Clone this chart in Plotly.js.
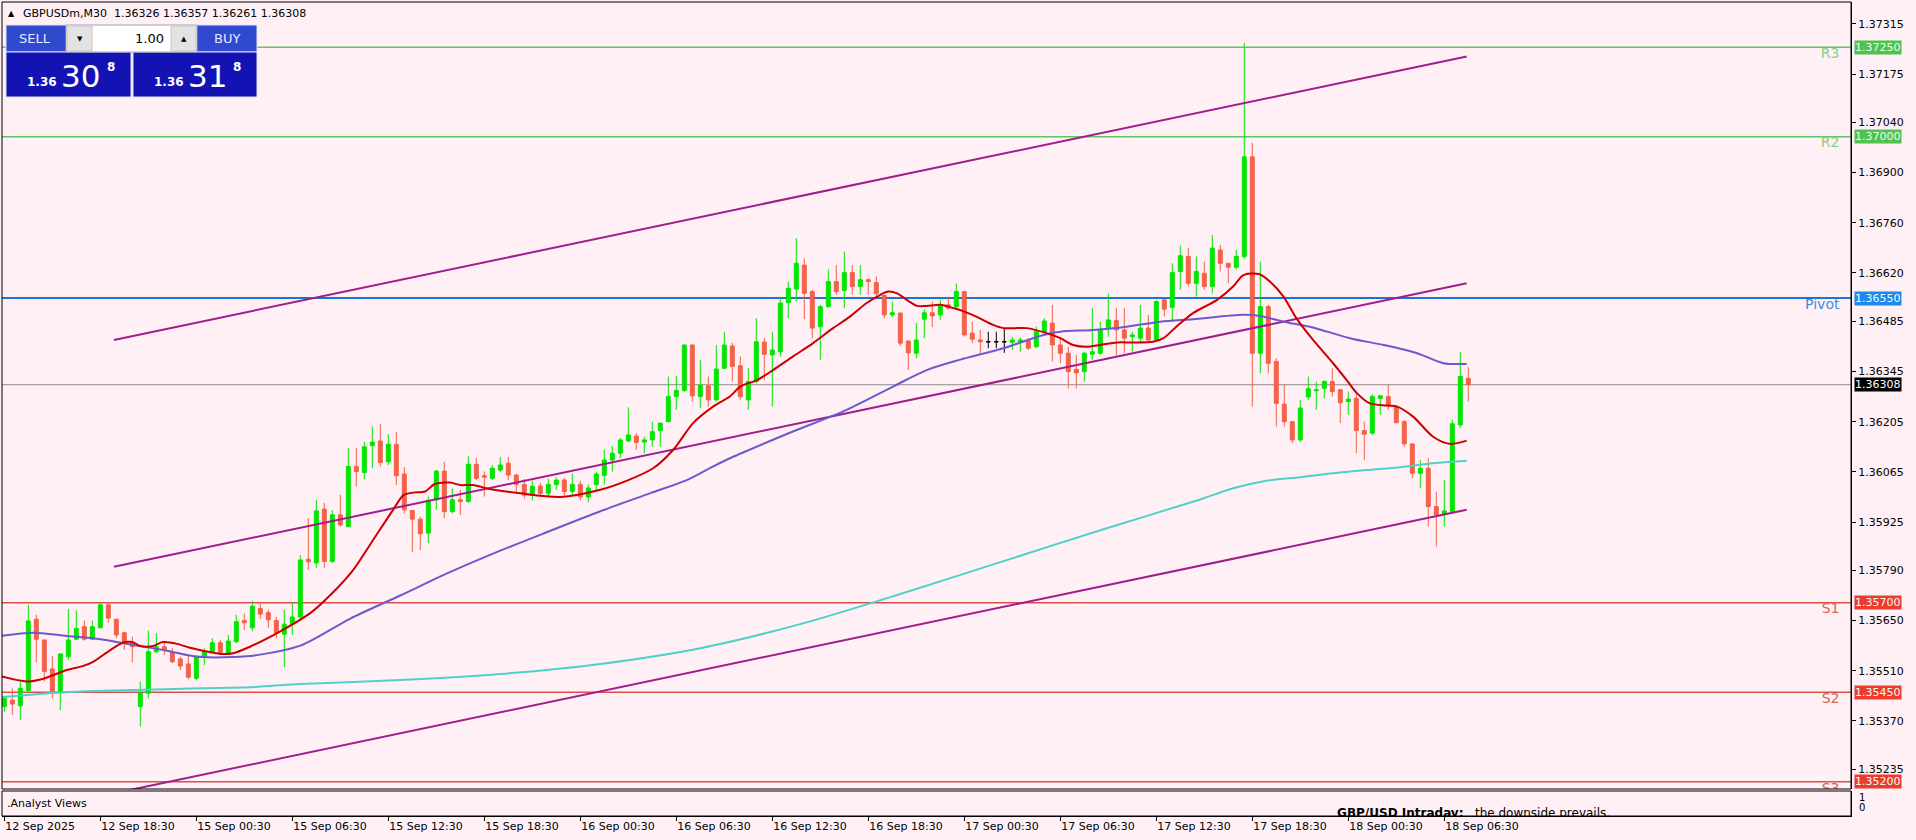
<!DOCTYPE html>
<html><head><meta charset="utf-8">
<script src="https://cdn.plot.ly/plotly-3.0.1.min.js"></script>
<style>html,body{margin:0;padding:0;background:#fff0f5;}#chart{width:1916px;height:840px;}</style>
</head><body><div id="chart"></div>
<script>
// ---------------- DATA ----------------
const symbolText = 'GBPUSDm,M30  1.36326 1.36357 1.36261 1.36308';
const tickBars = [0,12,24,36,48,60,72,84,96,108,120,132,144,156,168,180];
const tickLabels = ['12 Sep 2025','12 Sep 18:30','15 Sep 00:30','15 Sep 06:30','15 Sep 12:30','15 Sep 18:30','16 Sep 00:30','16 Sep 06:30','16 Sep 12:30','16 Sep 18:30','17 Sep 00:30','17 Sep 06:30','17 Sep 12:30','17 Sep 18:30','18 Sep 00:30','18 Sep 06:30'];
const priceTicks = [1.37315,1.37175,1.37040,1.36900,1.36760,1.36620,1.36485,1.36345,1.36205,1.36065,1.35925,1.35790,1.35650,1.35510,1.35370,1.35235];

const opens = [
1.35410,1.35428,1.35412,1.35455,1.35654,1.35596,1.35515,1.35452,1.35549,1.35598,
1.35633,1.35598,1.35630,1.35694,1.35654,1.35616,1.35588,1.35410,1.35447,1.35563,
1.35577,1.35563,1.35543,1.35529,1.35489,1.35549,1.35561,1.35588,1.35559,1.35591,
1.35650,1.35630,1.35684,1.35672,1.35650,1.35612,1.35640,1.35660,1.35821,1.35811,
1.35961,1.35815,1.35945,1.35912,1.36080,1.36063,1.36138,1.36151,1.36093,1.36142,
1.36059,1.35957,1.35933,1.35894,1.35987,1.36067,1.35954,1.35987,1.35982,1.36086,
1.36054,1.36047,1.36070,1.36089,1.36056,1.36030,1.36000,1.36025,1.36005,1.36030,
1.36042,1.36010,1.36030,1.35995,1.36030,1.36055,1.36098,1.36117,1.36151,1.36165,
1.36148,1.36154,1.36180,1.36205,1.36275,1.36292,1.36419,1.36275,1.36305,1.36266,
1.36354,1.36416,1.36361,1.36266,1.36317,1.36427,1.36391,1.36400,1.36537,1.36575,
1.36642,1.36568,1.36470,1.36526,1.36596,1.36571,1.36621,1.36582,1.36601,1.36593,
1.36557,1.36503,1.36508,1.36430,1.36396,1.36491,1.36509,1.36503,1.36531,1.36526,
1.36568,1.36452,1.36433,1.36428,1.36428,1.36428,1.36426,1.36428,1.36431,1.36414,
1.36456,1.36480,1.36419,1.36396,1.36351,1.36345,1.36393,1.36396,1.36466,1.36487,
1.36461,1.36442,1.36438,1.36466,1.36433,1.36545,1.36524,1.36624,1.36666,1.36591,
1.36619,1.36582,1.36684,1.36647,1.36636,1.36666,1.36944,1.36396,1.36526,1.36373,
1.36254,1.36205,1.36154,1.36274,1.36291,1.36298,1.36317,1.36294,1.36261,1.36270,
1.36180,1.36173,1.36270,1.36275,1.36247,1.36205,1.36143,1.36061,1.36075,1.35968,
1.35947,1.35954,1.36196,1.36326];
const highs = [
1.35440,1.35461,1.35480,1.35694,1.35666,1.35596,1.35551,1.35557,1.35682,1.35678,
1.35650,1.35650,1.35698,1.35698,1.35654,1.35619,1.35605,1.35480,1.35622,1.35615,
1.35587,1.35573,1.35549,1.35554,1.35554,1.35573,1.35601,1.35596,1.35610,1.35666,
1.35670,1.35705,1.35697,1.35680,1.35660,1.35680,1.35700,1.35833,1.35936,1.35987,
1.35978,1.35958,1.36001,1.36131,1.36131,1.36149,1.36191,1.36198,1.36170,1.36177,
1.36078,1.35957,1.35940,1.35996,1.36070,1.36093,1.36019,1.36015,1.36109,1.36105,
1.36066,1.36084,1.36106,1.36107,1.36060,1.36045,1.36040,1.36035,1.36045,1.36050,
1.36048,1.36060,1.36040,1.36030,1.36065,1.36126,1.36137,1.36159,1.36245,1.36173,
1.36163,1.36205,1.36202,1.36331,1.36333,1.36420,1.36420,1.36377,1.36331,1.36419,
1.36456,1.36425,1.36387,1.36354,1.36494,1.36438,1.36456,1.36554,1.36596,1.36717,
1.36661,1.36573,1.36531,1.36630,1.36642,1.36680,1.36642,1.36642,1.36605,1.36610,
1.36559,1.36540,1.36509,1.36431,1.36480,1.36519,1.36540,1.36545,1.36554,1.36591,
1.36570,1.36484,1.36461,1.36456,1.36456,1.36466,1.36442,1.36440,1.36438,1.36470,
1.36494,1.36531,1.36438,1.36414,1.36391,1.36400,1.36522,1.36484,1.36563,1.36522,
1.36522,1.36456,1.36531,1.36503,1.36545,1.36545,1.36647,1.36697,1.36689,1.36666,
1.36652,1.36726,1.36698,1.36647,1.36684,1.37262,1.36983,1.36652,1.36531,1.36382,
1.36308,1.36205,1.36266,1.36331,1.36317,1.36321,1.36354,1.36294,1.36289,1.36289,
1.36205,1.36282,1.36280,1.36308,1.36252,1.36210,1.36143,1.36098,1.36103,1.36010,
1.36042,1.36210,1.36400,1.36357];
const lows = [
1.35395,1.35387,1.35373,1.35452,1.35533,1.35480,1.35433,1.35400,1.35540,1.35596,
1.35594,1.35596,1.35628,1.35644,1.35601,1.35568,1.35533,1.35354,1.35433,1.35559,
1.35554,1.35531,1.35512,1.35486,1.35484,1.35526,1.35559,1.35554,1.35554,1.35587,
1.35624,1.35620,1.35655,1.35630,1.35600,1.35520,1.35610,1.35650,1.35791,1.35797,
1.35797,1.35811,1.35912,1.35912,1.36024,1.36044,1.36075,1.36080,1.36084,1.36028,
1.35949,1.35842,1.35847,1.35866,1.35959,1.35936,1.35949,1.35945,1.35979,1.36042,
1.35996,1.36042,1.36064,1.36042,1.36010,1.35990,1.35985,1.35995,1.35998,1.36015,
1.36000,1.36000,1.35985,1.35980,1.36010,1.36030,1.36066,1.36103,1.36149,1.36126,
1.36117,1.36135,1.36135,1.36205,1.36238,1.36288,1.36261,1.36243,1.36247,1.36261,
1.36352,1.36317,1.36266,1.36238,1.36312,1.36321,1.36247,1.36387,1.36494,1.36540,
1.36491,1.36438,1.36377,1.36522,1.36559,1.36522,1.36559,1.36559,1.36559,1.36554,
1.36494,1.36497,1.36416,1.36349,1.36382,1.36438,1.36469,1.36489,1.36517,1.36517,
1.36442,1.36424,1.36396,1.36410,1.36410,1.36397,1.36405,1.36400,1.36405,1.36410,
1.36452,1.36373,1.36368,1.36298,1.36298,1.36317,1.36377,1.36391,1.36442,1.36391,
1.36396,1.36400,1.36428,1.36428,1.36428,1.36498,1.36484,1.36573,1.36582,1.36554,
1.36573,1.36563,1.36624,1.36591,1.36629,1.36660,1.36247,1.36340,1.36340,1.36191,
1.36191,1.36145,1.36149,1.36266,1.36238,1.36270,1.36275,1.36201,1.36224,1.36117,
1.36098,1.36168,1.36224,1.36238,1.36201,1.36135,1.36047,1.36019,1.35912,1.35856,
1.35912,1.35949,1.36187,1.36261];
const closes = [
1.35433,1.35417,1.35461,1.35649,1.35598,1.35508,1.35452,1.35557,1.35596,1.35628,
1.35598,1.35633,1.35694,1.35657,1.35610,1.35591,1.35577,1.35447,1.35563,1.35577,
1.35568,1.35535,1.35523,1.35492,1.35549,1.35563,1.35588,1.35561,1.35593,1.35647,
1.35644,1.35690,1.35668,1.35652,1.35615,1.35640,1.35660,1.35819,1.35814,1.35956,
1.35815,1.35945,1.35917,1.36080,1.36066,1.36135,1.36148,1.36091,1.36142,1.36054,
1.35959,1.35933,1.35892,1.35985,1.36067,1.35954,1.35987,1.35982,1.36086,1.36047,
1.36050,1.36075,1.36084,1.36056,1.36030,1.36000,1.36025,1.36005,1.36030,1.36042,
1.36010,1.36030,1.35995,1.36020,1.36059,1.36098,1.36117,1.36154,1.36168,1.36147,
1.36154,1.36177,1.36201,1.36275,1.36292,1.36419,1.36277,1.36307,1.36266,1.36352,
1.36419,1.36359,1.36275,1.36317,1.36428,1.36393,1.36405,1.36536,1.36577,1.36647,
1.36563,1.36466,1.36526,1.36596,1.36568,1.36621,1.36582,1.36601,1.36596,1.36562,
1.36503,1.36509,1.36424,1.36397,1.36433,1.36509,1.36500,1.36531,1.36522,1.36568,
1.36447,1.36435,1.36428,1.36428,1.36428,1.36428,1.36433,1.36433,1.36410,1.36456,
1.36486,1.36419,1.36396,1.36345,1.36341,1.36396,1.36400,1.36461,1.36489,1.36461,
1.36438,1.36447,1.36466,1.36433,1.36540,1.36519,1.36621,1.36668,1.36591,1.36624,
1.36582,1.36689,1.36647,1.36636,1.36666,1.36944,1.36396,1.36526,1.36368,1.36256,
1.36205,1.36154,1.36243,1.36297,1.36294,1.36317,1.36289,1.36258,1.36268,1.36180,
1.36170,1.36275,1.36277,1.36252,1.36202,1.36143,1.36061,1.36075,1.35968,1.35945,
1.35956,1.36199,1.36331,1.36308];

// moving averages (bar position, price)
const fastMA_x = [-0.5,2.8,4.8,7.8,9.8,11.1,13.2,14.8,16.0,17.0,18.6,19.8,21.6,23.2,24.8,27.0,28.6,30.7,34.5,38.2,40.7,43.6,46.1,48.6,49.9,51.1,52.6,53.8,55.7,57.0,58.6,60.7,64.5,69.5,74.5,78.0,81.1,83.6,86.1,88.6,90.7,92.0,94.1,96.1,98.6,101.1,103.6,105.7,107.8,109.5,110.5,111.6,112.8,114.1,115.3,117.0,118.6,120.0,121.5,123.6,124.9,127.8,130.3,132.0,133.6,135.3,137.0,139.1,141.1,143.6,144.9,146.5,148.6,151.6,153.6,154.9,156.8,158.2,159.9,161.5,163.6,166.1,167.8,169.1,170.7,172.8,174.1,176.1,178.6,180.7,182.8];
const fastMA_y = [1.35495,1.35480,1.35487,1.35512,1.35523,1.35535,1.35567,1.35588,1.35590,1.35579,1.35579,1.35590,1.35585,1.35574,1.35566,1.35557,1.35559,1.35577,1.35620,1.35670,1.35720,1.35791,1.35875,1.35959,1.36000,1.36007,1.36010,1.36031,1.36035,1.36028,1.36028,1.36017,1.36005,1.35995,1.36015,1.36042,1.36075,1.36126,1.36201,1.36247,1.36275,1.36303,1.36321,1.36349,1.36387,1.36424,1.36466,1.36498,1.36536,1.36559,1.36568,1.36563,1.36545,1.36528,1.36528,1.36531,1.36522,1.36512,1.36498,1.36475,1.36466,1.36466,1.36452,1.36438,1.36419,1.36414,1.36419,1.36426,1.36426,1.36428,1.36438,1.36470,1.36508,1.36545,1.36582,1.36614,1.36617,1.36596,1.36554,1.36494,1.36433,1.36368,1.36321,1.36284,1.36256,1.36250,1.36247,1.36219,1.36163,1.36143,1.36152];
const midMA_x = [-0.5,3.6,7.8,12.0,16.1,20.3,22.8,24.8,28.6,30.7,37.0,43.2,49.5,55.7,62.0,68.2,74.5,80.7,85.3,88.6,90.7,98.2,105.3,111.1,115.3,119.5,124.9,129.9,132.0,136.1,140.3,144.5,148.6,154.9,157.0,159.9,163.2,168.2,172.4,176.6,179.9,182.8];
const midMA_y = [1.35607,1.35616,1.35607,1.35598,1.35582,1.35566,1.35554,1.35548,1.35548,1.35551,1.35580,1.35655,1.35720,1.35785,1.35845,1.35900,1.35955,1.36005,1.36042,1.36080,1.36103,1.36174,1.36238,1.36303,1.36349,1.36378,1.36410,1.36447,1.36456,1.36461,1.36470,1.36484,1.36491,1.36503,1.36500,1.36484,1.36470,1.36438,1.36419,1.36396,1.36368,1.36366];
const slowMA_x = [-0.5,3.6,7.8,16.1,24.5,30.7,37.0,49.5,62.0,74.5,87.0,99.5,112.0,124.5,137.0,149.5,153.6,157.8,162.0,166.1,170.3,174.5,178.6,182.8];
const slowMA_y = [1.35436,1.35444,1.35450,1.35456,1.35461,1.35464,1.35473,1.35484,1.35501,1.35529,1.35573,1.35640,1.35724,1.35813,1.35902,1.35988,1.36019,1.36040,1.36050,1.36061,1.36070,1.36078,1.36089,1.36096];

// equidistant channel (anchor bars and prices)
const channelX = [13.7, 182.8];
const channelUpper = [1.36433, 1.37224];
const channelMiddle = [1.35800, 1.36591];
const channelLower = [1.35168, 1.35959];

// pivot levels
const levelNames = ['R3','R2','Pivot','S1','S2','S3'];
const levelPrices = [1.37250,1.37000,1.36550,1.35700,1.35450,1.35200];
const lastPrice = 1.36308;
const lotSize = '1.00';
const bidBig = '30', askBig = '31', pricePrefix = '1.36', pipette = '8';
const noteTitle = 'GBP/USD Intraday:';
const noteText = 'the downside prevails.';
const panelName = '.Analyst Views';

// ---------------- STYLE / LAYOUT ----------------
const W = 1916, H = 840;
const PL = 2, PR = 1851, PT = 2, PB = 816, MAINB = 789, SUBT = 791;
const X = px => (px - PL) / (PR - PL);
const Y = py => (PB - py) / (PB - PT);
const FONT = 'DejaVu Sans, Verdana, sans-serif';
const levelColors = ['#62c462','#62c462','#1c74d9','#d9504a','#d9504a','#d9504a'];
const levelTextColors = ['#86d386','#86d386','#3d8fe0','#e0605a','#e0605a','#e0605a'];
const levelBoxColors = ['#4fc24f','#4fc24f','#1e88f0','#ee3b30','#ee3b30','#ee3b30'];

const idx = opens.map((_, i) => i);
const isDoji = i => opens[i] === closes[i];
const nIdx = idx.filter(i => !isDoji(i));
const dIdx = idx.filter(i => isDoji(i));
const pick = (arr, ids) => ids.map(i => arr[i]);

const traces = [];
[channelUpper, channelMiddle, channelLower].forEach(ys => traces.push({
  type: 'scatter', mode: 'lines', x: channelX, y: ys, xaxis: 'x', yaxis: 'y',
  line: {color: '#a01d8e', width: 2}, hoverinfo: 'skip'
}));
traces.push({type:'scatter', mode:'lines', x: slowMA_x, y: slowMA_y, line:{color:'#4fd0cc', width:2, shape:'spline', smoothing:0.8}, hoverinfo:'skip'});
traces.push({type:'scatter', mode:'lines', x: midMA_x, y: midMA_y, line:{color:'#6a5acd', width:2, shape:'spline', smoothing:0.8}, hoverinfo:'skip'});
traces.push({type:'scatter', mode:'lines', x: fastMA_x, y: fastMA_y, line:{color:'#cc0000', width:2, shape:'spline', smoothing:0.8}, hoverinfo:'skip'});
traces.push({
  type: 'candlestick', x: nIdx, open: pick(opens,nIdx), high: pick(highs,nIdx), low: pick(lows,nIdx), close: pick(closes,nIdx),
  increasing: {line: {color: '#00e600', width: 1}, fillcolor: '#00e600'},
  decreasing: {line: {color: '#f26148', width: 1}, fillcolor: '#f26148'},
  whiskerwidth: 0, hoverinfo: 'skip', xaxis: 'x', yaxis: 'y'
});
traces.push({
  type: 'candlestick', x: dIdx, open: pick(opens,dIdx), high: pick(highs,dIdx), low: pick(lows,dIdx), close: pick(closes,dIdx),
  increasing: {line: {color: '#000000', width: 1}, fillcolor: '#000000'},
  decreasing: {line: {color: '#000000', width: 1}, fillcolor: '#000000'},
  whiskerwidth: 0, hoverinfo: 'skip', xaxis: 'x', yaxis: 'y'
});
traces.push({
  type:'scatter', mode:'text', x: levelNames.map(() => 229.4), y: levelPrices.map(p => p - 0.0002),
  text: levelNames, textposition: 'middle left',
  textfont: {family: FONT, size: 14, color: levelTextColors}, hoverinfo:'skip', xaxis:'x', yaxis:'y'
});
traces.push({
  type:'scatter', mode:'text', x:[166.6], y:[0.1], xaxis:'x', yaxis:'y2',
  text:['<b>' + noteTitle + '</b>   ' + noteText], textposition:'middle right',
  textfont:{family: FONT, size: 12, color:'#000'}, hoverinfo:'skip'
});

const shapes = [];
levelPrices.forEach((p, k) => shapes.push({
  type:'line', xref:'paper', x0:0, x1:1, yref:'y', y0:p, y1:p,
  line:{color: levelColors[k], width: k === 2 ? 2 : 1.5}, layer:'below'
}));
shapes.push({type:'line', xref:'paper', x0:0, x1:1, yref:'y', y0:lastPrice, y1:lastPrice, line:{color:'#8a8a8a', width:1}, layer:'below'});
shapes.push({type:'rect', xref:'paper', yref:'paper', x0:0, x1:1, y0:Y(MAINB), y1:1, line:{color:'#000', width:1}, layer:'above'});
shapes.push({type:'rect', xref:'paper', yref:'paper', x0:0, x1:1, y0:0, y1:Y(SUBT), line:{color:'#000', width:1}, layer:'above'});
const rect = (x0,y0,x1,y1,fill,lc) => shapes.push({type:'rect', xref:'paper', yref:'paper', x0:X(x0), x1:X(x1), y0:Y(y1), y1:Y(y0), fillcolor:fill, line:{color:lc||fill, width:1}, layer:'above'});
rect(6,25,131,52,'#2f49cf','#dfe4f7');
rect(6,52,131,97,'#1313b4','#dfe4f7');
rect(133,25,257,52,'#2f49cf','#dfe4f7');
rect(133,52,257,97,'#1313b4','#dfe4f7');
rect(66,25,197,52,'#ffffff','#a8a8a8');
rect(67,26,92,51,'#e3e3e3','#c8c8c8');
rect(171,26,196,51,'#e3e3e3','#c8c8c8');

const ann = [];
const A = (x, y, text, opt) => ann.push(Object.assign({xref:'paper', yref:'paper', x:X(x), y:Y(y), text, showarrow:false, xanchor:'left', yanchor:'middle', font:{family:FONT, size:11, color:'#000'}}, opt||{}));
A(6, 13.5, '▲', {font:{family:FONT, size:8, color:'#000'}});
A(21, 13.5, symbolText, {font:{family:FONT, size:11, color:'#000'}});
A(35, 39, 'SELL', {xanchor:'center', font:{family:FONT, size:13, color:'#e4eaff'}});
A(227, 39, 'BUY', {xanchor:'center', font:{family:FONT, size:13, color:'#e4eaff'}});
A(166, 39, lotSize, {xanchor:'right', font:{family:FONT, size:13, color:'#000'}});
A(80, 39, '▼', {xanchor:'center', font:{family:FONT, size:7, color:'#000'}});
A(183.5, 39, '▲', {xanchor:'center', font:{family:FONT, size:7, color:'#000'}});
A(25, 82, '<b>' + pricePrefix + '</b>', {font:{family:FONT, size:12, color:'#fff'}});
A(59, 76, bidBig, {font:{family:FONT, size:31, color:'#fff'}});
A(105, 67, '<b>' + pipette + '</b>', {font:{family:FONT, size:12, color:'#fff'}});
A(152, 82, '<b>' + pricePrefix + '</b>', {font:{family:FONT, size:12, color:'#fff'}});
A(186, 76, askBig, {font:{family:FONT, size:31, color:'#fff'}});
A(231, 67, '<b>' + pipette + '</b>', {font:{family:FONT, size:12, color:'#fff'}});
A(5, 803, panelName, {font:{family:FONT, size:11, color:'#000'}});
A(1857, 797, '1', {font:{family:FONT, size:10, color:'#000'}});
A(1857, 807, '0', {font:{family:FONT, size:10, color:'#000'}});
levelPrices.forEach((p, k) => ann.push({xref:'paper', yref:'y', x:X(1854), y:p, text:p.toFixed(5), showarrow:false, xanchor:'left', yanchor:'middle', bgcolor:levelBoxColors[k], borderpad:0, font:{family:FONT, size:11, color:'#eaffea'}}));
ann.push({xref:'paper', yref:'y', x:X(1854), y:lastPrice, text:lastPrice.toFixed(5), showarrow:false, xanchor:'left', yanchor:'middle', bgcolor:'#000', borderpad:0, font:{family:FONT, size:11, color:'#fff'}});

const layout = {
  width: W, height: H,
  margin: {l: PL, r: W - PR, t: PT, b: H - PB, pad: 0},
  paper_bgcolor: '#fff0f5', plot_bgcolor: '#fff0f5',
  showlegend: false,
  xaxis: {
    type:'linear', range: [-0.29, 230.84], anchor: 'y2',
    tickvals: tickBars, ticktext: tickLabels, ticks: 'outside', ticklen: 4, tickcolor: '#000',
    ticklabelposition: 'outside right',
    tickfont: {family: FONT, size: 11, color: '#000'},
    showgrid: false, zeroline: false, showline: true, linecolor: '#000', linewidth: 1,
    rangeslider: {visible: false}, fixedrange: true
  },
  yaxis: {
    domain: [Y(MAINB), 1], range: [1.35180, 1.37376], side: 'right', anchor: 'x',
    tickvals: priceTicks, ticktext: priceTicks.map(v => v.toFixed(5)),
    ticks: 'outside', ticklen: 4, tickcolor: '#000',
    tickfont: {family: FONT, size: 11, color: '#000'},
    showgrid: false, zeroline: false, showline: true, linecolor: '#000', linewidth: 1, fixedrange: true
  },
  yaxis2: {
    domain: [0, Y(SUBT)], range: [0, 1], side: 'right', anchor: 'x',
    showticklabels: false, ticks: '', showgrid: false, zeroline: false, showline: true, linecolor: '#000', fixedrange: true
  },
  shapes: shapes,
  annotations: ann
};

Plotly.newPlot('chart', traces, layout, {displayModeBar: false, staticPlot: true});
</script>
</body></html>
